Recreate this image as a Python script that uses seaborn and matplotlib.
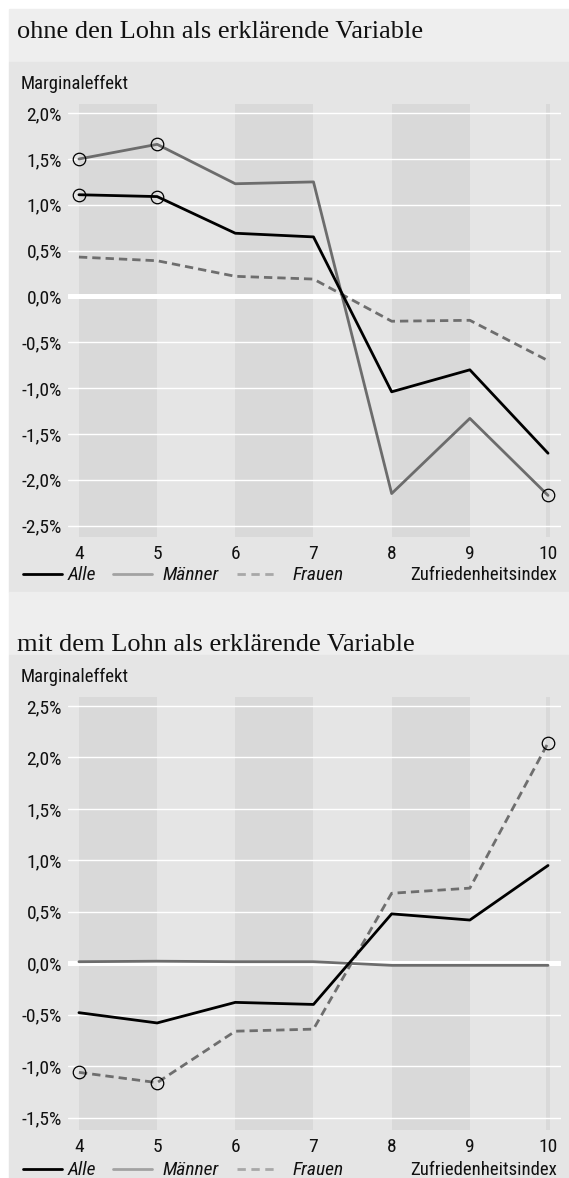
import matplotlib
matplotlib.use("Agg")
import matplotlib.pyplot as plt
from matplotlib import font_manager
from matplotlib.lines import Line2D
from matplotlib.patches import Rectangle
from matplotlib.ticker import FuncFormatter
import pandas as pd
import seaborn as sns

W, H = 569, 1178

index = [4, 5, 6, 7, 8, 9, 10]
gruppen = ["Alle", "Männer", "Frauen"]

# ohne den Lohn als erklärende Variable (Marginaleffekt in %)
ohne_alle = [1.11, 1.09, 0.69, 0.65, -1.04, -0.80, -1.71]
ohne_maenner = [1.50, 1.66, 1.23, 1.25, -2.15, -1.33, -2.17]
ohne_frauen = [0.43, 0.39, 0.22, 0.19, -0.27, -0.26, -0.70]
ohne_sig = {"Alle": [4, 5], "Männer": [4, 5, 10], "Frauen": []}
ohne_ticks = [2.0, 1.5, 1.0, 0.5, 0.0, -0.5, -1.0, -1.5, -2.0, -2.5]

# mit dem Lohn als erklärende Variable
mit_alle = [-0.48, -0.58, -0.38, -0.40, 0.48, 0.42, 0.95]
mit_maenner = [0.015, 0.02, 0.015, 0.015, -0.02, -0.02, -0.02]
mit_frauen = [-1.06, -1.16, -0.66, -0.64, 0.68, 0.73, 2.14]
mit_sig = {"Alle": [], "Männer": [], "Frauen": [4, 5, 10]}
mit_ticks = [2.5, 2.0, 1.5, 1.0, 0.5, 0.0, -0.5, -1.0, -1.5]

baender = [(4, 5), (6, 7), (8, 9), (9.98, 10.03)]

sns.set_style("white")

# schmale Schrift suchen
namen = {f.name: f.stretch for f in font_manager.fontManager.ttflist}
stretch = "normal"
if "Roboto Condensed" in namen:
    sans = "Roboto Condensed"
elif "Liberation Sans Narrow" in namen:
    sans = "Liberation Sans Narrow"
elif any(f.name == "DejaVu Sans" and "condensed" in str(f.stretch)
         for f in font_manager.fontManager.ttflist):
    sans = "DejaVu Sans"
    stretch = "semi-condensed"
else:
    sans = "Liberation Sans"
plt.rcParams["font.family"] = [sans, "DejaVu Sans"]
plt.rcParams["font.stretch"] = stretch

farben = {"Alle": "black", "Männer": "#6c6c6c", "Frauen": "#6e6e6e"}
striche = {"Alle": "", "Männer": "", "Frauen": (3, 1.8)}
FS = 13.5


def fx(px):
    return px / W


def fy(px):
    return 1 - px / H


def prozent(v, pos):
    return f"{v:.1f}%".replace(".", ",")


fig = plt.figure(figsize=(W / 100, H / 100), dpi=100)
fig.patch.set_facecolor("white")

# Hintergrundflächen
for top, bottom, col in [(9, 62, "#eeeeee"), (62, 592, "#e5e5e5"),
                         (592, 655, "#eeeeee"), (655, 1178, "#e5e5e5")]:
    fig.add_artist(Rectangle((fx(9), fy(bottom)), 1 - fx(9), (bottom - top) / H,
                             transform=fig.transFigure, color=col, zorder=-10))


def panel(top, bottom, ylim, ticks, alle, maenner, frauen, sig, titel_y, titel,
          label_y, legend_y):
    fig.text(fx(17), fy(titel_y), titel, family="Liberation Serif", fontsize=19,
             va="baseline", ha="left", color="#111111")
    fig.text(fx(21), fy(label_y), "Marginaleffekt", fontsize=FS, va="center",
             ha="left", color="#111111")
    ax = fig.add_axes([fx(68), fy(bottom), fx(561) - fx(68), (bottom - top) / H])
    ax.set_facecolor("#e5e5e5")
    for s in ax.spines.values():
        s.set_visible(False)
    for a, b in baender:
        ax.axvspan(a, b, color="#d9d9d9", lw=0, zorder=0)
    for t in ticks:
        ax.axhline(t, color="white", lw=3.6 if t == 0 else 1.0, zorder=1)

    df = pd.DataFrame({
        "index": index * 3,
        "wert": alle + maenner + frauen,
        "gruppe": [g for g in gruppen for _ in index],
    })
    sns.lineplot(data=df, x="index", y="wert", hue="gruppe", style="gruppe",
                 hue_order=["Männer", "Frauen", "Alle"], palette=farben,
                 dashes=striche, linewidth=2, legend=False, ax=ax, zorder=3)
    for g in gruppen:
        pts = df[(df.gruppe == g) & df["index"].isin(sig[g])]
        ax.plot(pts["index"], pts["wert"], "o", ls="none", mfc="none", mec="black",
                ms=9, mew=0.9, zorder=4)

    ax.set_xlim(3.86, 10.166)
    ax.set_ylim(*ylim)
    ax.set_xticks(index)
    ax.set_yticks(ticks)
    ax.yaxis.set_major_formatter(FuncFormatter(prozent))
    ax.tick_params(axis="both", length=0, labelsize=FS + 0.5, colors="#111111")
    ax.tick_params(axis="y", pad=4.3)
    ax.tick_params(axis="x", pad=6.0)
    ax.set_xlabel("")
    ax.set_ylabel("")

    # Legende
    for (x0, x1), g, col, ls in [((22.7, 61.7), "Alle", "black", "-"),
                                 ((113, 152), "Männer", "#a2a2a2", "-"),
                                 ((237, 275), "Frauen", "#a8a8a8", (0, (3, 2)))]:
        fig.add_artist(Line2D([fx(x0), fx(x1)], [fy(legend_y), fy(legend_y)],
                              transform=fig.transFigure, color=col, lw=2, ls=ls))
    for x, g in [(68, "Alle"), (163, "Männer"), (293, "Frauen")]:
        fig.text(fx(x), fy(legend_y + 1), g, style="italic", fontsize=FS + 0.5,
                 va="center", ha="left", color="#111111")
    fig.text(fx(557), fy(legend_y + 1), "Zufriedenheitsindex", fontsize=FS,
             va="center", ha="right", color="#111111")
    return ax


panel(104, 537, (-2.624, 2.10), ohne_ticks, ohne_alle, ohne_maenner, ohne_frauen,
      ohne_sig, 38, "ohne den Lohn als erklärende Variable", 84, 574)
panel(697, 1130, (-1.62, 2.587), mit_ticks, mit_alle, mit_maenner, mit_frauen,
      mit_sig, 651, "mit dem Lohn als erklärende Variable", 677, 1169)

fig.savefig("out.png", dpi=100, facecolor=fig.get_facecolor())
